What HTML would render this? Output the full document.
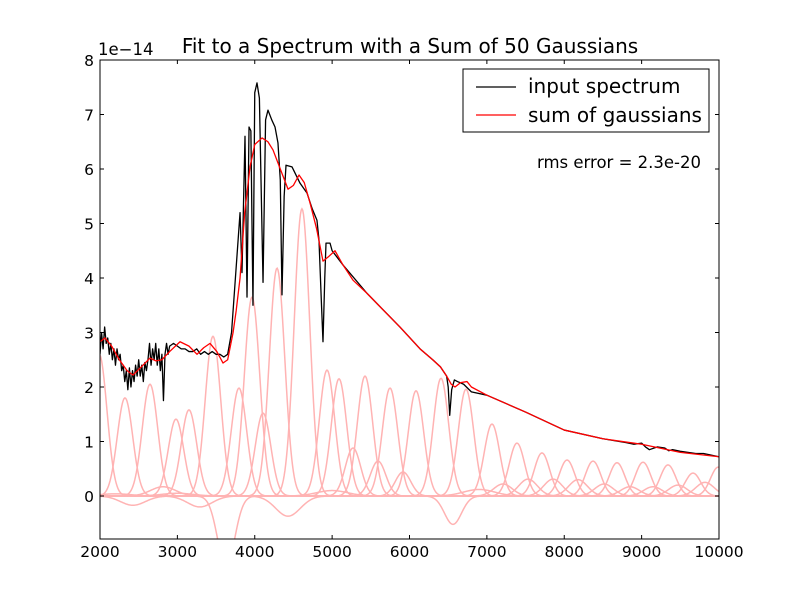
<!DOCTYPE html>
<html><head><meta charset="utf-8"><style>
body{margin:0;background:#fff;}
svg{display:block;font-family:"DejaVu Sans","Liberation Sans",sans-serif;}
</style></head><body>
<svg id="chart" width="800" height="600" viewBox="0 0 800 600">
<rect x="0" y="0" width="800" height="600" fill="#fff"/>
<defs><clipPath id="plotclip"><rect x="100" y="60" width="619" height="479"/></clipPath></defs>
<text x="410" y="53" font-size="20" text-anchor="middle">Fit to a Spectrum with a Sum of 50 Gaussians</text>
<text x="98" y="55" font-size="16.5">1e−14</text>
<g id="gauss" clip-path="url(#plotclip)"></g>
<g id="series" clip-path="url(#plotclip)"></g>
<g id="axes"></g>
<rect x="100" y="60" width="619" height="479" fill="none" stroke="#000" stroke-width="1"/>
<g>
<rect x="463" y="69" width="246" height="63" fill="#fff" stroke="#000" stroke-width="1"/>
<line x1="476" y1="87" x2="516" y2="87" stroke="#000" stroke-width="1.3"/>
<text x="528" y="93" font-size="20">input spectrum</text>
<line x1="476" y1="115" x2="516" y2="115" stroke="#f00" stroke-width="1.3"/>
<text x="528" y="122" font-size="20">sum of gaussians</text>
</g>
<text x="701" y="168" font-size="16.5" text-anchor="end">rms error = 2.3e-20</text>
</svg>
<script>
const xTicks=[2000,3000,4000,5000,6000,7000,8000,9000,10000];
const yTicks=[0,1,2,3,4,5,6,7,8];
const specX=[
2000,2020,2040,2060,2080,2100,2120,2140,2160,2180,
2200,2220,2240,2260,2280,2300,2320,2340,2360,2380,
2400,2420,2440,2460,2480,2500,2520,2540,2560,2580,
2600,2620,2640,2660,2680,2700,2720,2740,2760,2780,
2800,2820,2840,2860,2880,2900,
2950,3000,3050,3100,3150,3200,3250,3300,3350,3400,3450,3500,3550,3600,3650,
3700,3750,3810,3835,3874,3900,3926,3950,3977,4000,
4029,4060,4107,4140,4171,4220,4262,4300,4330,4352,
4380,4404,4481,4585,4675,4740,4804,4830,4860,4882,
4905,4921,4973,5000,5140,5450,5877,6136,6300,6400,
6480,6500,6520,6545,6580,6620,6700,6800,7000,7500,
8000,8500,8800,8900,9000,9050,9100,9200,9300,9350,
9400,9500,9600,9700,9800,9900,10000];
const specY=[
2.6,3.0,2.7,3.1,2.8,2.9,2.6,2.8,2.5,2.7,
2.4,2.7,2.5,2.6,2.3,2.4,2.1,2.3,1.95,2.35,
2.0,2.3,2.1,2.4,2.2,2.5,2.2,2.4,2.1,2.45,
2.3,2.5,2.8,2.4,2.7,2.5,2.8,2.4,2.7,2.3,
2.6,1.75,2.6,2.8,2.6,2.75,
2.8,2.75,2.7,2.7,2.65,2.65,2.7,2.6,2.65,2.6,2.65,2.6,2.6,2.55,2.6,
3.0,4.0,5.2,4.1,6.6,3.65,6.77,6.7,3.5,7.4,
7.58,7.3,3.92,6.9,7.08,6.9,6.77,6.48,5.8,3.69,
5.5,6.07,6.04,5.74,5.56,5.28,5.06,4.7,3.6,2.83,
4.0,4.64,4.64,4.5,4.24,3.72,3.1,2.7,2.5,2.37,
2.2,2.0,1.48,1.95,2.13,2.1,2.05,1.91,1.85,1.54,
1.21,1.05,0.98,0.95,0.97,0.9,0.85,0.9,0.88,0.83,
0.85,0.82,0.8,0.78,0.78,0.75,0.72];
const sumX=[2000,2065,2150,2250,2350,2426,2520,2646,2720,2800,
2900,3034,3150,3254,3340,3422,3510,3590,3650,3720,
3760,3810,3870,3939,4000,4094,4170,4236,4330,4430,
4500,4572,4640,4714,4800,4882,4960,5037,5140,5270,
5450,5877,6136,6300,6400,6480,6540,6588,6660,6743,
6800,7000,7500,8000,8500,9000,9500,10000];
const sumY=[2.83,2.9,2.75,2.5,2.3,2.22,2.35,2.53,2.48,2.5,
2.65,2.83,2.75,2.6,2.72,2.8,2.65,2.44,2.5,3.0,
3.4,4.0,5.2,6.04,6.45,6.57,6.5,6.35,6.0,5.63,
5.7,5.89,5.75,5.38,4.9,4.31,4.4,4.5,4.24,3.96,
3.72,3.1,2.7,2.5,2.37,2.2,2.05,2.0,2.08,2.1,
2.0,1.85,1.54,1.21,1.05,0.95,0.8,0.72];
const gaussCenters=[1990,2323,2646,2982,3150,3460,3796,3965,4107,4288,4610,4934,5089,5270,5425,5593,5748,5916,6084,6407,6730,7066,7389,7712,8036,8372,8682,9018,9341,9664,9990,7208,7532,7855,8178,8514,8850,9147,9470,9819,6562,4430,3630,3290,2815,2426,6900,5000,3000,2200];
const gaussAmps=[2.6,1.8,2.05,1.41,1.58,2.93,1.98,3.65,1.52,4.18,5.27,2.31,2.15,0.88,2.2,0.64,1.98,0.44,1.93,2.16,1.96,1.32,0.97,0.79,0.66,0.64,0.61,0.62,0.57,0.42,0.53,0.22,0.31,0.31,0.3,0.22,0.17,0.17,0.2,0.25,-0.52,-0.37,-1.3,-0.2,0.17,-0.17,0.12,0.1,0.05,0.04];
const gaussSigmas=[100,100,100,100,100,100,100,100,100,100,100,100,100,100,100,100,100,100,100,100,100,100,100,100,100,100,100,100,100,100,100,120,120,120,120,120,120,120,120,120,110,160,110,160,160,160,200,200,200,200];

const NS='http://www.w3.org/2000/svg';
const X0=100,X1=719,Y0=539,Ytop=60;
function sx(v){return X0+(v-2000)/(10000-2000)*(X1-X0);}
function sy(v){return 496-v*54.5;}
function mk(tag,attrs,parent){const e=document.createElementNS(NS,tag);for(const k in attrs)e.setAttribute(k,attrs[k]);parent.appendChild(e);return e;}
function pathFrom(xs,ys){let d='';const n=Math.min(xs.length,ys.length);for(let i=0;i<n;i++)d+=(i?'L':'M')+sx(xs[i]).toFixed(2)+','+sy(ys[i]).toFixed(2);return d;}

const gg=document.getElementById('gauss');
for(let j=0;j<gaussCenters.length;j++){
  const xs=[],ys=[];
  for(let x=2000;x<=10000;x+=10){xs.push(x);ys.push(gaussAmps[j]*Math.exp(-Math.pow(x-gaussCenters[j],2)/(2*gaussSigmas[j]*gaussSigmas[j])));}
  const p=mk('path',{d:pathFrom(xs,ys),fill:'none',stroke:'#ffb3b3','stroke-width':'1.5'},gg);
  
  
}
const sg=document.getElementById('series');
const sp=mk('path',{d:pathFrom(specX,specY),fill:'none',stroke:'#000','stroke-width':'1.3','stroke-linejoin':'round'},sg);


const rp=mk('path',{d:pathFrom(sumX,sumY),fill:'none',stroke:'#f00','stroke-width':'1.3','stroke-linejoin':'round'},sg);



const ax=document.getElementById('axes');
xTicks.forEach(t=>{
  const x=sx(t);
  mk('line',{x1:x,y1:Y0,x2:x,y2:Y0-4,stroke:'#000'},ax);
  mk('line',{x1:x,y1:Ytop,x2:x,y2:Ytop+4,stroke:'#000'},ax);
  const tx=mk('text',{x:x,y:557,'font-size':'15.5','text-anchor':'middle'},ax);
  tx.textContent=t;
  
  
});
yTicks.forEach(t=>{
  const y=sy(t);
  mk('line',{x1:X0,y1:y,x2:X0+4,y2:y,stroke:'#000'},ax);
  mk('line',{x1:X1,y1:y,x2:X1-4,y2:y,stroke:'#000'},ax);
  const tx=mk('text',{x:94,y:y+6,'font-size':'15.5','text-anchor':'end'},ax);
  tx.textContent=t;
  
  
});
</script>
</body></html>
